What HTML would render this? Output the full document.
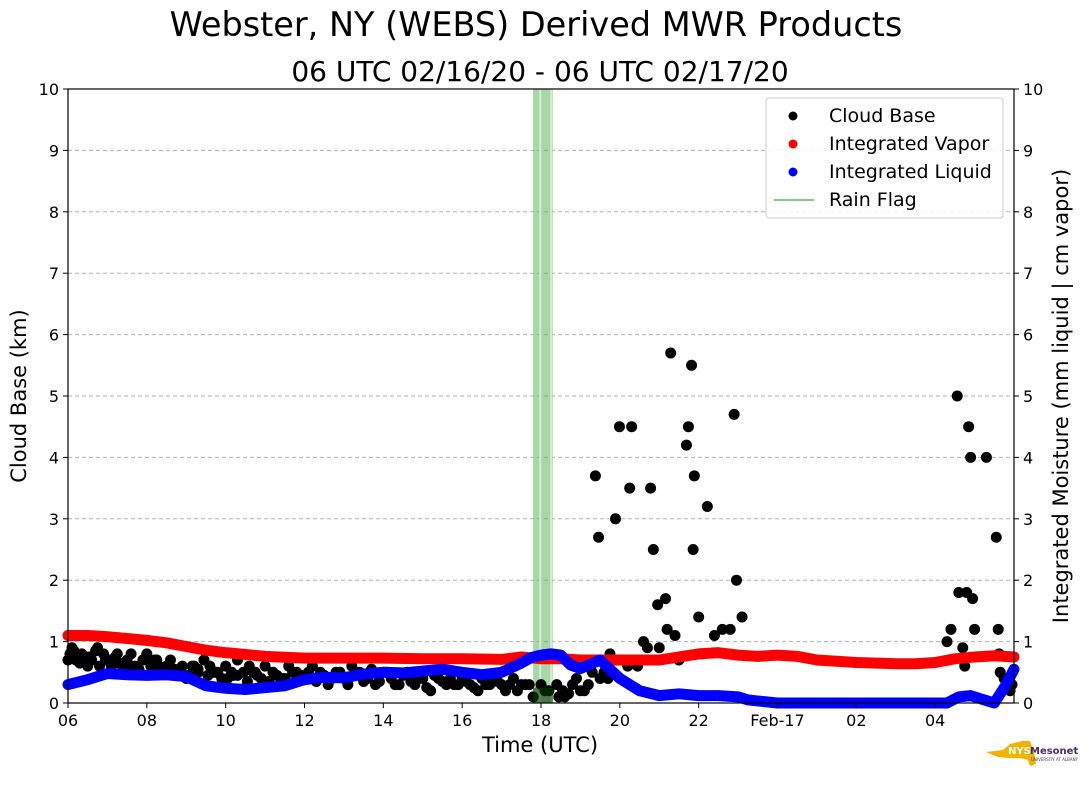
<!DOCTYPE html>
<html><head><meta charset="utf-8"><style>
html,body{margin:0;padding:0;background:#fff;}
svg{display:block;font-family:"DejaVu Sans","Liberation Sans",sans-serif;}
</style></head><body>
<svg id="chart" width="1089" height="804" viewBox="0 0 1089 804">
<text x="536" y="36" font-size="33.5" text-anchor="middle">Webster, NY (WEBS) Derived MWR Products</text>
<text x="540" y="81" font-size="28" text-anchor="middle">06 UTC 02/16/20 - 06 UTC 02/17/20</text>
<g id="grid"></g>
<g id="marks"></g>
<rect x="68" y="89" width="946" height="614" fill="none" stroke="#000" stroke-width="1.2"/>
<g id="axes"></g>
<text x="540" y="752" font-size="21" text-anchor="middle">Time (UTC)</text>
<text transform="translate(26,396) rotate(-90)" font-size="21" text-anchor="middle">Cloud Base (km)</text>
<text transform="translate(1068,396) rotate(-90)" font-size="21" text-anchor="middle">Integrated Moisture (mm liquid | cm vapor)</text>
<g>
<rect x="766" y="98" width="237" height="120" rx="3" fill="#fff" fill-opacity="0.85" stroke="#ccc"/>
<circle cx="793" cy="116" r="4.5" fill="#000"/>
<text x="829" y="122" font-size="19">Cloud Base</text>
<circle cx="793" cy="144" r="4.5" fill="#f00"/>
<text x="829" y="150" font-size="19">Integrated Vapor</text>
<circle cx="793" cy="172" r="4.5" fill="#00f"/>
<text x="829" y="178" font-size="19">Integrated Liquid</text>
<line x1="774" y1="200" x2="814" y2="200" stroke="#5cb85c" stroke-width="1.5"/>
<text x="829" y="206" font-size="19">Rain Flag</text>
</g>
<g>
<path d="M986 752 L1003 750 L1010 744 L1022 741 L1030 741 L1034 752 L1036 764 L1030 766 L1028 760 L1020 758 L1008 758 L998 757 Z" fill="#f0b400"/>
<text x="1008" y="754" font-size="10" font-weight="bold" fill="#fff">NYS</text>
<text x="1030" y="754" font-size="10" font-weight="bold" fill="#4b2a6e">Mesonet</text>
<text x="1031" y="761" font-size="4" fill="#4b2a6e">UNIVERSITY AT ALBANY</text>
</g>
</svg>
<script>
// data
const xTickHours = [0,2,4,6,8,10,12,14,16,18,20,22];
const xTickLabels = ["06","08","10","12","14","16","18","20","22","Feb-17","02","04"];
const yTicks = [0,1,2,3,4,5,6,7,8,9,10];
const rainStart = 11.8, rainEnd = 12.3;
const vaporHours = [0,0.5,1,1.5,2,2.5,3,3.5,4,5,6,7,8,9,10,11,11.5,12,12.5,13,14,15,15.5,16,16.5,17,17.5,18,18.5,19,20,21,21.5,22,22.5,23,23.5,24];
const vaporVals =  [1.1,1.1,1.08,1.05,1.02,0.98,0.92,0.86,0.82,0.76,0.73,0.73,0.73,0.72,0.72,0.71,0.75,0.72,0.72,0.70,0.70,0.70,0.75,0.80,0.82,0.78,0.76,0.78,0.76,0.70,0.66,0.64,0.64,0.66,0.72,0.75,0.77,0.75];
const liquidHours = [0,0.5,1,1.5,2,2.5,3,3.5,4,4.5,5,5.5,6,6.5,7,7.5,8,8.5,9,9.5,10,10.5,11,11.5,11.75,12,12.25,12.5,12.75,13,13.5,14,14.5,15,15.5,16,16.5,17,17.25,18,19,20,21,22,22.3,22.6,22.9,23.2,23.5,23.8,24];
const liquidVals =  [0.3,0.38,0.48,0.46,0.45,0.46,0.43,0.28,0.24,0.22,0.25,0.28,0.38,0.42,0.41,0.47,0.5,0.49,0.52,0.55,0.5,0.46,0.5,0.65,0.74,0.78,0.8,0.78,0.62,0.56,0.7,0.4,0.2,0.12,0.15,0.12,0.12,0.1,0.05,0,0,0,0,0,0,0.1,0.12,0.06,0,0.3,0.55];
const cbHours = [0,0.1,0.2,0.35,0.5,0.6,0.75,0.9,1,1.1,1.25,1.4,1.5,1.6,1.75,1.9,2,2.1,2.25,2.4,2.5,2.6,2.75,2.9,3,3.15,3.3,3.45,3.6,3.75,3.9,4,4.15,4.3,4.45,4.6,4.75,4.9,5,5.2,5.4,5.6,5.8,6,6.2,6.4,6.6,6.8,7,7.2,7.4,7.6,7.8,8,8.2,8.4,8.6,8.8,9,9.2,9.4,9.6,9.8,10,10.2,10.4,10.6,10.8,11,11.2,11.4,11.6,11.8,12,12.2,12.4,12.6,12.8,13,13.2,
 0.05,0.3,0.55,0.8,1.05,1.3,1.55,1.8,2.05,2.3,2.55,2.8,3.05,3.3,3.55,3.8,4.05,4.3,4.55,4.8,5.1,5.5,5.9,6.3,6.7,7.1,7.5,7.9,8.3,8.7,9.1,9.5,9.9,10.3,10.7,11.1,11.5,12.1,12.7,13.1,
 0.15,0.45,0.7,0.95,1.2,1.45,1.7,2.2,2.7,3.2,3.7,4.2,4.7,5.3,5.7,6.1,6.5,6.9,7.3,7.7,8.1,8.5,8.9,9.3,9.7,10.1,10.5,10.9,11.3,11.7,12.45,12.55,12.9,13.0,13.3,13.5,
 13.38,13.46,13.6,13.75,13.89,13.99,14.1,14.3,14.25,14.45,14.6,14.78,14.85,14.96,15.0,15.16,15.29,15.4,15.5,15.69,15.74,15.82,15.89,15.86,16.0,16.1,16.22,16.4,16.6,16.8,16.9,16.96,17.1,13.7,14.2,14.7,15.2,
 22.3,22.4,22.56,22.6,22.7,22.75,22.8,22.85,22.9,22.95,23.0,23.3,23.55,23.6,23.62,23.65,23.75,23.95,23.9];
const cbVals = [0.7,0.9,0.7,0.8,0.6,0.7,0.9,0.8,0.7,0.6,0.8,0.6,0.7,0.8,0.5,0.7,0.8,0.6,0.7,0.5,0.6,0.7,0.5,0.6,0.4,0.6,0.5,0.7,0.6,0.5,0.4,0.6,0.5,0.7,0.5,0.6,0.5,0.4,0.6,0.5,0.4,0.6,0.5,0.4,0.6,0.5,0.3,0.5,0.4,0.6,0.5,0.4,0.3,0.5,0.4,0.3,0.5,0.3,0.4,0.2,0.4,0.3,0.3,0.4,0.3,0.2,0.3,0.4,0.3,0.3,0.2,0.3,0.1,0.3,0.2,0.3,0.1,0.3,0.2,0.3,
 0.8,0.65,0.75,0.6,0.7,0.65,0.6,0.55,0.7,0.6,0.55,0.5,0.45,0.55,0.45,0.5,0.4,0.45,0.35,0.45,0.35,0.4,0.45,0.35,0.4,0.3,0.35,0.35,0.3,0.35,0.25,0.35,0.3,0.25,0.3,0.2,0.3,0.2,0.15,0.2,
 0.85,0.75,0.85,0.7,0.75,0.65,0.6,0.7,0.55,0.6,0.5,0.45,0.5,0.45,0.5,0.5,0.45,0.5,0.5,0.55,0.5,0.45,0.4,0.45,0.4,0.35,0.4,0.35,0.4,0.3,0.1,0.2,0.4,0.6,0.5,0.4,
 3.7,2.7,0.5,0.8,3.0,4.5,0.7,4.5,3.5,0.6,1.0,3.5,2.5,1.6,0.9,1.7,5.7,1.1,0.7,4.2,4.5,5.5,3.7,2.5,1.4,0.8,3.2,1.1,1.2,1.2,4.7,2.0,1.4,0.4,0.6,0.9,1.2,
 1.0,1.2,5.0,1.8,0.9,0.6,1.8,4.5,4.0,1.7,1.2,4.0,2.7,1.2,0.8,0.5,0.4,0.3,0.2];
const X0=68,X1=1014,Y0=703,Y1=89;
const xs=h=>X0+h*(X1-X0)/24;
const ys=v=>Y0-v*(Y0-Y1)/10;
const NS="http://www.w3.org/2000/svg";
function mk(tag,attrs,parent){const e=document.createElementNS(NS,tag);for(const k in attrs)e.setAttribute(k,attrs[k]);parent.appendChild(e);return e;}
const grid=document.getElementById('grid'),marks=document.getElementById('marks'),axes=document.getElementById('axes');
yTicks.forEach(v=>{
  if(v>0&&v<10){const g=mk('line',{x1:X0,x2:X1,y1:ys(v),y2:ys(v),stroke:'#b0b0b0','stroke-dasharray':'4,3','stroke-width':1},grid);
  
  }
  const t1=mk('line',{x1:X0-5,x2:X0,y1:ys(v),y2:ys(v),stroke:'#000'},axes);
  
  
  const t2=mk('line',{x1:X1,x2:X1+5,y1:ys(v),y2:ys(v),stroke:'#000'},axes);
  
  
  const l1=mk('text',{x:X0-9,y:ys(v)+6,'font-size':16,'text-anchor':'end'},axes);l1.textContent=v;
  
  
  const l2=mk('text',{x:X1+9,y:ys(v)+6,'font-size':16},axes);l2.textContent=v;
  
  
});
xTickHours.forEach((h,i)=>{
  const t=mk('line',{x1:xs(h),x2:xs(h),y1:Y0,y2:Y0+5,stroke:'#000'},axes);
  
  
  const l=mk('text',{x:xs(h),y:Y0+23,'font-size':16,'text-anchor':'middle'},axes);l.textContent=xTickLabels[i];
  
  
});
const rf=mk('rect',{x:xs(rainStart),y:Y1,width:xs(rainEnd)-xs(rainStart),height:Y0-Y1,fill:'#5cb85c','fill-opacity':0.55},marks);


[rainStart+0.18,rainEnd-0.04].forEach(h=>{const l=mk('line',{x1:xs(h),x2:xs(h),y1:Y1,y2:Y0,stroke:'#d6ecd6','stroke-width':2},marks);

});
cbHours.forEach((h,i)=>{const c=mk('circle',{cx:xs(h),cy:ys(cbVals[i]),r:5.5,fill:'#000'},marks);

});
function series(hs,vs,color,name){
  const p=mk('polyline',{points:hs.map((h,i)=>xs(h)+','+ys(vs[i])).join(' '),fill:'none',stroke:color,'stroke-width':11,'stroke-linejoin':'round','stroke-linecap':'round'},marks);
  
  
}
series(vaporHours,vaporVals,'#f00','integrated-vapor-series');
series(liquidHours,liquidVals,'#00f','integrated-liquid-series');
const ov=mk('rect',{x:xs(rainStart),y:ys(0.25),width:xs(rainEnd)-xs(rainStart),height:Y0-ys(0.25),fill:'#0a3a0a','fill-opacity':0.6},marks);


</script>
</body></html>
